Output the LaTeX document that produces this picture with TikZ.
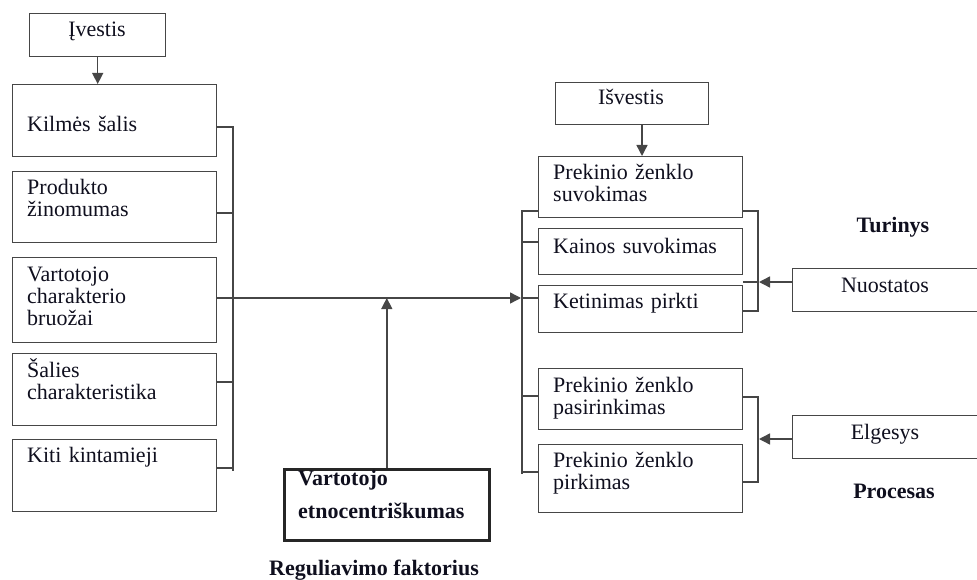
\documentclass[tikz,border=0pt]{standalone}
\usepackage{fontspec}
\setmainfont{Liberation Serif}
\usetikzlibrary{arrows.meta}
\definecolor{linec}{RGB}{70,70,70}
\definecolor{textc}{RGB}{15,15,30}
\begin{document}
\begin{tikzpicture}[x=1pt,y=-1pt,
  box/.style={draw=linec, line width=1.4pt, inner sep=0pt, anchor=north west},
  thickbox/.style={box, draw=black!85, line width=2.6pt},
  txt/.style={anchor=base west, inner sep=0pt, text=textc, text width=200pt, align=left,
    font=\fontsize{22}{22}\selectfont},
  ctxt/.style={anchor=base, inner sep=0pt, text=textc, font=\fontsize{22}{22}\selectfont},
  btxt/.style={ctxt, font=\fontsize{22}{22}\selectfont\bfseries},
  conn/.style={draw=linec, line width=1.4pt},
  arr/.style={conn, -{Triangle[length=11pt,width=11pt]}}
]
\useasboundingbox (0,0) rectangle (977,580);

% ---------- left column ----------
\node[box, minimum width=136pt, minimum height=43pt] (ivestis) at (29,13) {};
\node[ctxt] (tivestis) at (97,37) {Įvestis};

\node[box, minimum width=204pt, minimum height=72pt] (kilmes) at (12,84) {};
\node[txt] (tkilmes) at (27,132) {Kilmės šalis};

\node[box, minimum width=204pt, minimum height=71pt] (produkto) at (12,171) {};
\node[txt] (tprodukto) at (27,195) {Produkto\\žinomumas};

\node[box, minimum width=204pt, minimum height=85pt] (vart) at (12,257) {};
\node[txt] (tvart) at (27,281) {Vartotojo\\charakterio\\bruožai};

\node[box, minimum width=204pt, minimum height=72pt] (salies) at (12,353) {};
\node[txt] (tsalies) at (27,377) {Šalies\\charakteristika};

\node[box, minimum width=204pt, minimum height=72pt] (kiti) at (12,439) {};
\node[txt] (tkiti) at (27,462) {Kiti kintamieji};

% ---------- regulating factor ----------
\node[thickbox, minimum width=205pt, minimum height=71pt] (etno) at (283,468) {};
\node[txt, font=\fontsize{22}{32.5}\selectfont\bfseries] (tetno) at (298,485.5) {Vartotojo\\etnocentriškumas};
\node[btxt] (treg) at (374,575) {Reguliavimo faktorius};

% ---------- right column ----------
\node[box, minimum width=153pt, minimum height=42pt] (isvestis) at (555,82) {};
\node[ctxt] (tisvestis) at (631,105) {Išvestis};

\node[box, minimum width=204pt, minimum height=61pt] (prek) at (538,156) {};
\node[txt] (tprek) at (553,180) {Prekinio ženklo\\suvokimas};

\node[box, minimum width=204pt, minimum height=46pt] (kainos) at (538,228) {};
\node[txt] (tkainos) at (553,253) {Kainos suvokimas};

\node[box, minimum width=204pt, minimum height=47pt] (ketin) at (538,285) {};
\node[txt] (tketin) at (553,308) {Ketinimas pirkti};

\node[box, minimum width=204pt, minimum height=61pt] (pasir) at (538,368) {};
\node[txt] (tpasir) at (553,392) {Prekinio ženklo\\pasirinkimas};

\node[box, minimum width=204pt, minimum height=68pt] (pirk) at (538,444) {};
\node[txt] (tpirk) at (553,467) {Prekinio ženklo\\pirkimas};

\node[box, minimum width=200pt, minimum height=43pt] (nuost) at (792,268) {};
\node[ctxt] (tnuost) at (885,292) {Nuostatos};

\node[box, minimum width=200pt, minimum height=43pt] (elg) at (792,415) {};
\node[ctxt] (telg) at (885,439) {Elgesys};

\node[btxt] (ttur) at (893,233) {Turinys};
\node[btxt] (tproc) at (894,498) {Procesas};

% ---------- connectors: left ----------
\draw[arr] (ivestis.south) -- (ivestis.south |- kilmes.north);

\coordinate (lb1) at (233,127);
\coordinate (lb2) at (233,213);
\coordinate (lbm) at (233,298);
\coordinate (lb4) at (233,382);
\coordinate (lb5) at (233,468);
\coordinate (lbe) at (233,471);
\draw[conn] (kilmes.east |- lb1) -- (lb1) -- (lbe);
\draw[conn] (produkto.east |- lb2) -- (lb2);
\draw[conn] (salies.east |- lb4) -- (lb4);
\draw[conn] (kiti.east |- lb5) -- (lb5);

% main flow
\coordinate (rbm) at (521,298);
\draw[arr] (vart.east |- lbm) -- (rbm);
\draw[conn] (rbm) -- (ketin.west |- rbm);
\draw[arr] (etno.north) -- (etno.north |- rbm);

% ---------- connectors: right ----------
\coordinate (oa) at (642,124);
\draw[arr] (isvestis.south -| oa) -- (prek.north -| oa);

\coordinate (rb1) at (522,211);
\coordinate (rb2) at (522,242);
\coordinate (rb4) at (522,396);
\coordinate (rb5) at (522,472);
\coordinate (rb6) at (522,474);
\draw[conn] (prek.west |- rb1) -- (rb1) -- (rb6);
\draw[conn] (kainos.west |- rb2) -- (rb2);
\draw[conn] (pasir.west |- rb4) -- (rb4);
\draw[conn] (pirk.west |- rb5) -- (rb5);

\coordinate (sa) at (758,211);
\coordinate (sb) at (758,311);
\coordinate (sc) at (759,282);
\draw[conn] (prek.east |- sa) -- (sa) -- (sb) -- (ketin.east |- sb);
\draw[arr] (nuost.west |- sc) -- (sc);
\draw[conn] (sc) -- (ketin.east |- sc);

\coordinate (pa) at (758,397);
\coordinate (pb) at (758,482);
\coordinate (pc) at (759,439);
\draw[conn] (pasir.east |- pa) -- (pa) -- (pb) -- (pirk.east |- pb);
\draw[arr] (elg.west |- pc) -- (pc);
\end{tikzpicture}
\end{document}
